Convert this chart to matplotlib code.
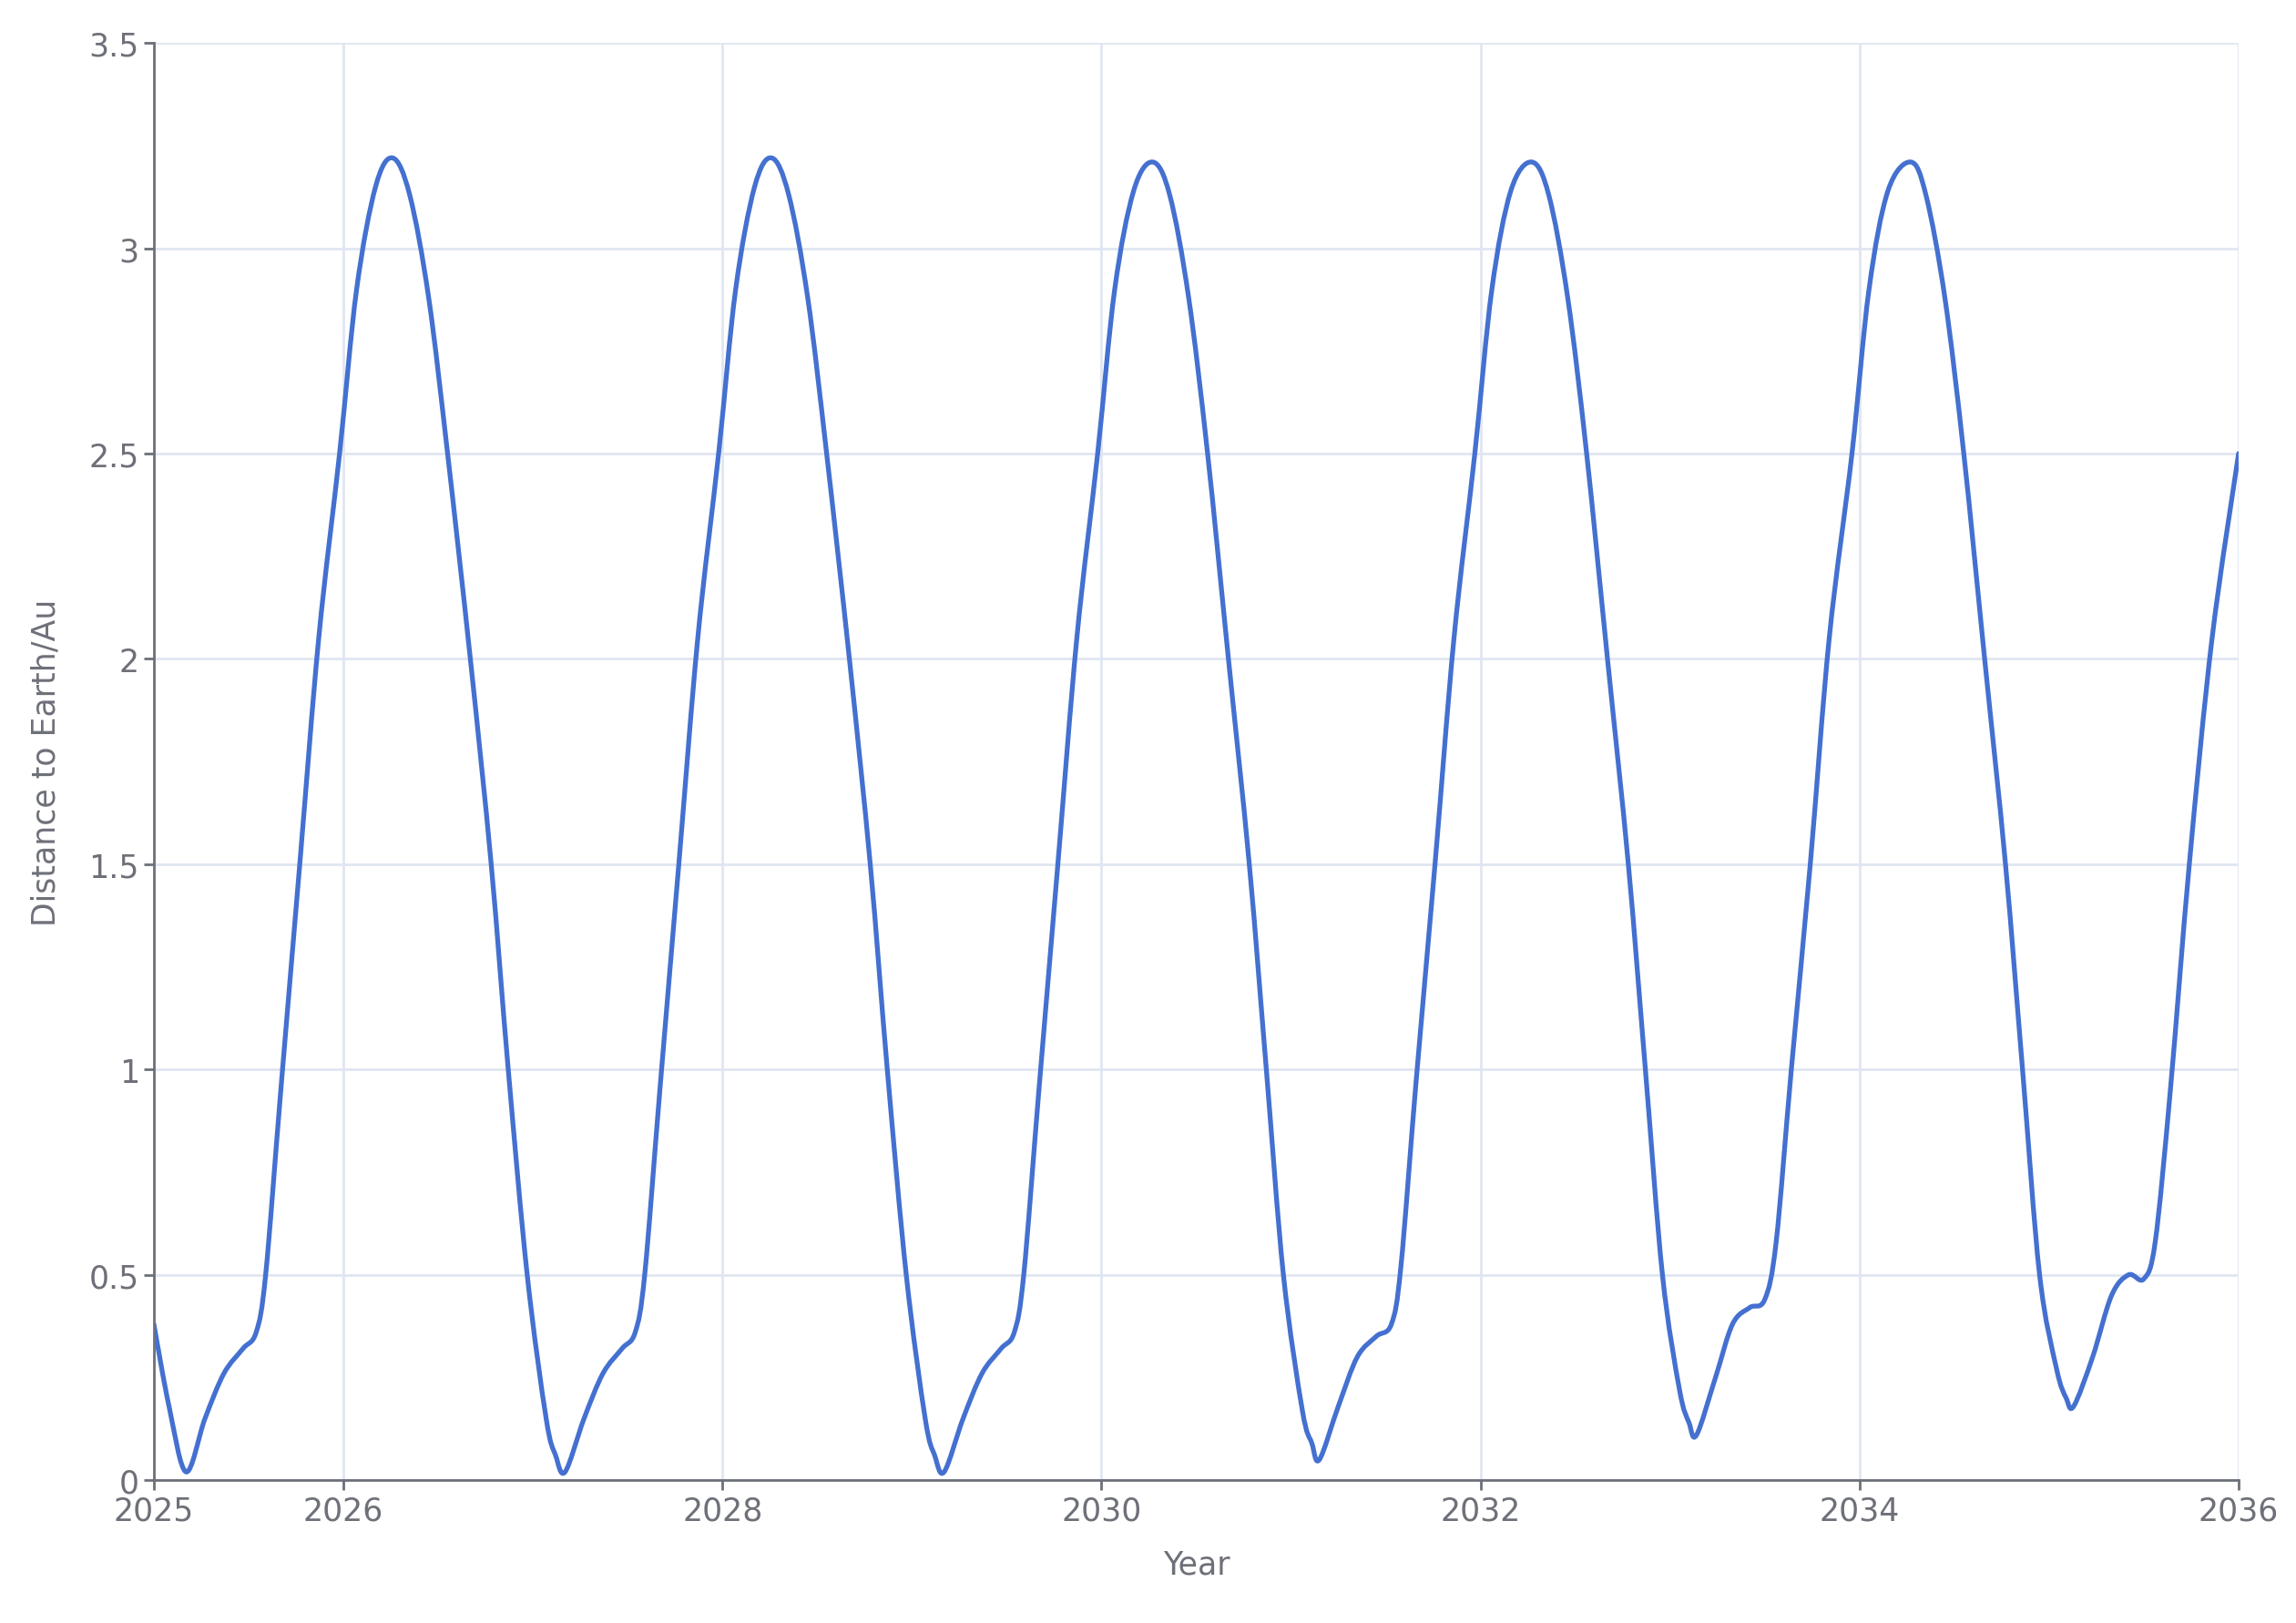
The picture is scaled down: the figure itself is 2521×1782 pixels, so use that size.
import matplotlib.pyplot as plt
from matplotlib.path import Path
from matplotlib.patches import PathPatch

# values (year, distance in AU)
years = [
    2025.00, 2025.08,
    2025.17, 2025.27, 2025.37, 2025.47, 2025.54, 2025.59, 2025.67, 2025.77, 2025.87, 2025.98, 2026.07,
    2026.17, 2026.26, 2026.35, 2026.45, 2026.55, 2026.67, 2026.78, 2026.87, 2026.97, 2027.07, 2027.12,
    2027.17, 2027.27, 2027.37, 2027.47, 2027.54, 2027.59, 2027.67, 2027.77, 2027.87, 2027.98, 2028.07,
    2028.17, 2028.26, 2028.35, 2028.45, 2028.55, 2028.67, 2028.78, 2028.87, 2028.97, 2029.07, 2029.12,
    2029.17, 2029.27, 2029.37, 2029.47, 2029.54, 2029.59, 2029.67, 2029.77, 2029.87, 2029.98, 2030.07,
    2030.17, 2030.27, 2030.36, 2030.46, 2030.56, 2030.67, 2030.78, 2030.87, 2030.96, 2031.06, 2031.11,
    2031.15, 2031.25, 2031.35, 2031.45, 2031.53, 2031.58, 2031.66, 2031.76, 2031.86, 2031.97, 2032.06,
    2032.16, 2032.27, 2032.36, 2032.46, 2032.56, 2032.67, 2032.78, 2032.87, 2032.96, 2033.05, 2033.10,
    2033.14, 2033.24, 2033.33, 2033.42, 2033.50, 2033.56, 2033.64, 2033.74, 2033.84, 2033.96, 2034.05,
    2034.15, 2034.27, 2034.35, 2034.45, 2034.55, 2034.66, 2034.77, 2034.86, 2034.95, 2035.04, 2035.09,
    2035.13, 2035.23, 2035.33, 2035.42, 2035.50, 2035.56, 2035.64, 2035.74, 2035.86, 2036.00,
]
distance = [
    0.38, 0.18,
    0.02, 0.15, 0.26, 0.32, 0.36, 0.50, 0.95, 1.50, 2.05, 2.50, 2.90,
    3.15, 3.22, 3.13, 2.88, 2.50, 2.00, 1.50, 1.00, 0.50, 0.15, 0.06,
    0.02, 0.15, 0.26, 0.32, 0.36, 0.50, 0.95, 1.50, 2.05, 2.50, 2.90,
    3.15, 3.22, 3.13, 2.88, 2.50, 2.00, 1.50, 1.00, 0.50, 0.15, 0.06,
    0.02, 0.15, 0.26, 0.32, 0.36, 0.50, 0.95, 1.50, 2.05, 2.50, 2.90,
    3.14, 3.21, 3.13, 2.88, 2.50, 2.00, 1.50, 1.00, 0.50, 0.17, 0.09,
    0.05, 0.18, 0.30, 0.35, 0.38, 0.52, 0.97, 1.50, 2.05, 2.50, 2.90,
    3.14, 3.21, 3.13, 2.88, 2.50, 2.00, 1.50, 1.00, 0.50, 0.22, 0.14,
    0.11, 0.25, 0.38, 0.42, 0.44, 0.58, 1.00, 1.50, 2.05, 2.50, 2.90,
    3.14, 3.21, 3.13, 2.88, 2.50, 2.00, 1.50, 1.00, 0.50, 0.27, 0.20,
    0.18, 0.30, 0.45, 0.50, 0.49, 0.58, 0.95, 1.50, 2.05, 2.50,
]

x_ticks = [2025, 2026, 2028, 2030, 2032, 2034, 2036]
y_ticks = [0, 0.5, 1, 1.5, 2, 2.5, 3, 3.5]
y_tick_labels = ["0", "0.5", "1", "1.5", "2", "2.5", "3", "3.5"]

fig = plt.figure(figsize=(25.21, 17.83), dpi=100)
ax = fig.add_axes([0.067, 0.088, 0.908, 0.885])

# smooth line through the points (Catmull-Rom as cubic Bezier segments)
pts = list(zip(years, distance))
verts = [pts[0]]
codes = [Path.MOVETO]
for i in range(len(pts) - 1):
    p0 = pts[max(i - 1, 0)]
    p1 = pts[i]
    p2 = pts[i + 1]
    p3 = pts[min(i + 2, len(pts) - 1)]
    c1 = (p1[0] + (p2[0] - p0[0]) / 6, p1[1] + (p2[1] - p0[1]) / 6)
    c2 = (p2[0] - (p3[0] - p1[0]) / 6, p2[1] - (p3[1] - p1[1]) / 6)
    verts += [c1, c2, p2]
    codes += [Path.CURVE4] * 3
ax.add_patch(PathPatch(Path(verts, codes), fill=False, edgecolor="#4470d0",
                       lw=3.8, capstyle="round", joinstyle="round"))

ax.set_xlim(2025, 2036)
ax.set_ylim(0, 3.5)
ax.set_xticks(x_ticks)
ax.set_yticks(y_ticks)
ax.set_yticklabels(y_tick_labels)
ax.grid(True, color="#e0e6f1", lw=2)
ax.set_axisbelow(True)

for side in ["top", "right"]:
    ax.spines[side].set_visible(False)
for side in ["left", "bottom"]:
    ax.spines[side].set_color("#6e7079")
    ax.spines[side].set_linewidth(2)

ax.tick_params(labelsize=25, colors="#6e7079", length=8, width=2)
ax.set_xlabel("Year", fontsize=25, color="#6e7079", labelpad=18)
ax.set_ylabel("Distance to Earth/Au", fontsize=25, color="#6e7079", labelpad=22)

fig.savefig("out.png", dpi=100)
